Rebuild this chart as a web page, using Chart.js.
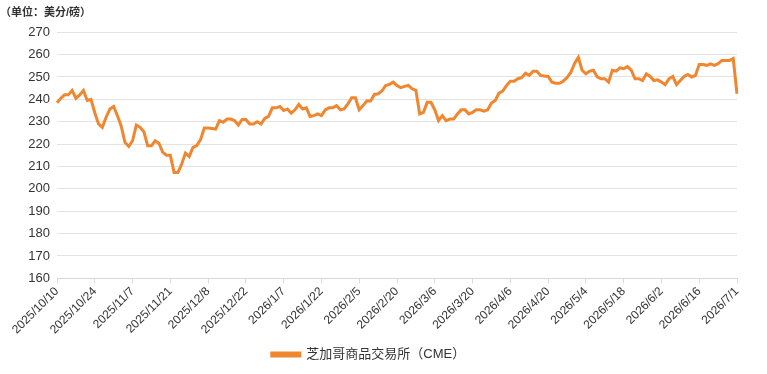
<!DOCTYPE html>
<html>
<head>
<meta charset="utf-8">
<script src="https://cdn.jsdelivr.net/npm/chart.js@4.4.1/dist/chart.umd.min.js"></script>
<style>
  html, body { margin: 0; padding: 0; background: #fff; }
  #wrap { width: 767px; height: 374px; }
</style>
</head>
<body>
<div id="wrap"><canvas id="mycanvas" width="767" height="374"></canvas></div>
<script>
// trading days, grouped by month
var months = ['2025/10', '2025/11', '2025/12', '2026/1', '2026/2', '2026/3', '2026/4', '2026/5', '2026/6', '2026/7'];
var days = [
  [10,13,14,15,16,17,20,21,22,23,24,27,28,29,30,31],
  [3,4,5,6,7,10,11,12,13,14,17,18,19,20,21,24,25,26,28],
  [1,2,3,4,5,8,9,10,11,12,15,16,17,18,19,22,23,24,26,29,30,31],
  [2,5,6,7,8,9,12,13,14,15,16,20,21,22,23,26,27,28,29,30],
  [2,3,4,5,6,9,10,11,12,13,17,18,19,20,23,24,25,26,27],
  [2,3,4,5,6,9,10,11,12,13,16,17,18,19,20,23,24,25,26,27,30,31],
  [1,2,6,7,8,9,10,13,14,15,16,17,20,21,22,23,24,27,28,29,30],
  [1,4,5,6,7,8,11,12,13,14,15,18,19,20,21,22,26,27,28,29],
  [1,2,3,4,5,8,9,10,11,12,15,16,17,18,22,23,24,25,26,29,30],
  [1]
];
var tickLabels = ['2025/10/10','2025/10/24','2025/11/7','2025/11/21','2025/12/8','2025/12/22',
  '2026/1/7','2026/1/22','2026/2/5','2026/2/20','2026/3/6','2026/3/20','2026/4/6','2026/4/20',
  '2026/5/4','2026/5/18','2026/6/2','2026/6/16','2026/7/1'];

// 美分/磅
var cme = [
  238.5,240.5,242,242,244,240.5,242,244,239.5,240,
  234,229,227.5,232,235.7,236.8,232.7,228,220.7,219,
  221.5,228.5,227.5,225.5,219.3,219.3,221.5,220.3,216.3,215,
  215,207.3,207.3,211,216,214.5,218.5,219.3,222,227.2,
  227.2,227,226.7,230.5,229.8,231.2,231.2,230.5,228.5,231,
  231,229,229,230,229,231.5,232.4,236.2,236.2,236.8,
  235,235.7,233.8,235.3,237.7,235.7,236.2,232.3,232.7,233.5,
  232.7,235.3,236.2,236.2,237.2,235.3,235.7,238,240.7,240.7,
  235.3,237.2,239.2,239.2,242.2,242.5,243.7,246.2,246.7,247.7,
  246.2,245.2,245.8,246.2,244.7,244,233.5,234.2,238.7,238.7,
  235.3,230.5,232.7,230.5,231.2,231.2,233.5,235.3,235.3,233.5,
  234.2,235.3,235.3,234.7,235.3,238.3,239.5,242.8,243.7,246.2,
  248.1,248.1,249.2,249.7,251.7,250.7,252.6,252.6,250.7,250.4,
  250.2,247.7,247.2,247.2,248.1,249.7,252,256,258.7,253,
  251.4,252.6,253,250,249.2,249.2,247.7,253,252.6,254.1,
  253.7,254.6,253,249.2,249.2,248.4,251.4,250.2,248.4,248.7,
  247.7,246.6,249.2,250.2,246.6,248.4,250.2,251.1,250,250.7,
  255.6,255.6,255.2,255.9,255.2,255.9,257.4,257.4,257.4,258.2,
  242.5
];

var labels = [];
for (var m = 0; m < months.length; m++) {
  for (var d = 0; d < days[m].length; d++) {
    labels.push(months[m] + '/' + days[m][d]);
  }
}

var FONT = "'Liberation Sans', Arial, 'Noto Sans CJK SC', sans-serif";
var ORANGE = '#F0862E';

var ctx = document.getElementById('mycanvas');
var lineChart = new Chart(ctx, {
  type: 'line',
  data: {
    labels: labels,
    datasets: [{
      label: '芝加哥商品交易所（CME）',
      data: cme,
      borderColor: ORANGE,
      backgroundColor: ORANGE,
      borderWidth: 3,
      pointRadius: 0,
      tension: 0,
      fill: false
    }]
  },
  options: {
    responsive: false,
    animation: false,
    layout: { padding: { left: 0, right: 30, top: 0, bottom: 3 } },
    plugins: {
      title: {
        display: true,
        text: '（单位：美分/磅）',
        align: 'start',
        color: '#333',
        font: { family: FONT, size: 11, weight: 'bold' },
        padding: { top: 6, bottom: 13 }
      },
      legend: {
        position: 'bottom',
        labels: {
          color: '#333',
          font: { family: FONT, size: 13 },
          boxWidth: 28,
          boxHeight: 3
        }
      },
      tooltip: { enabled: true }
    },
    scales: {
      x: {
        grid: {
          drawOnChartArea: false,
          tickLength: 5,
          color: '#d9d9d9'
        },
        border: { color: '#d9d9d9' },
        ticks: {
          autoSkip: false,
          minRotation: 45,
          maxRotation: 45,
          color: '#333',
          font: { family: FONT, size: 12 },
          padding: 1,
          callback: function(val, i) {
            var lab = this.getLabelForValue(val);
            return tickLabels.indexOf(lab) >= 0 ? lab : null;
          }
        }
      },
      y: {
        min: 160,
        max: 270,
        border: { display: false },
        grid: { color: '#e3e3e3', drawTicks: false },
        afterFit: function(scale) { scale.width = 57; },
        ticks: {
          stepSize: 10,
          color: '#333',
          padding: 7,
          font: { family: FONT, size: 13 }
        }
      }
    }
  }
});
</script>
</body>
</html>
